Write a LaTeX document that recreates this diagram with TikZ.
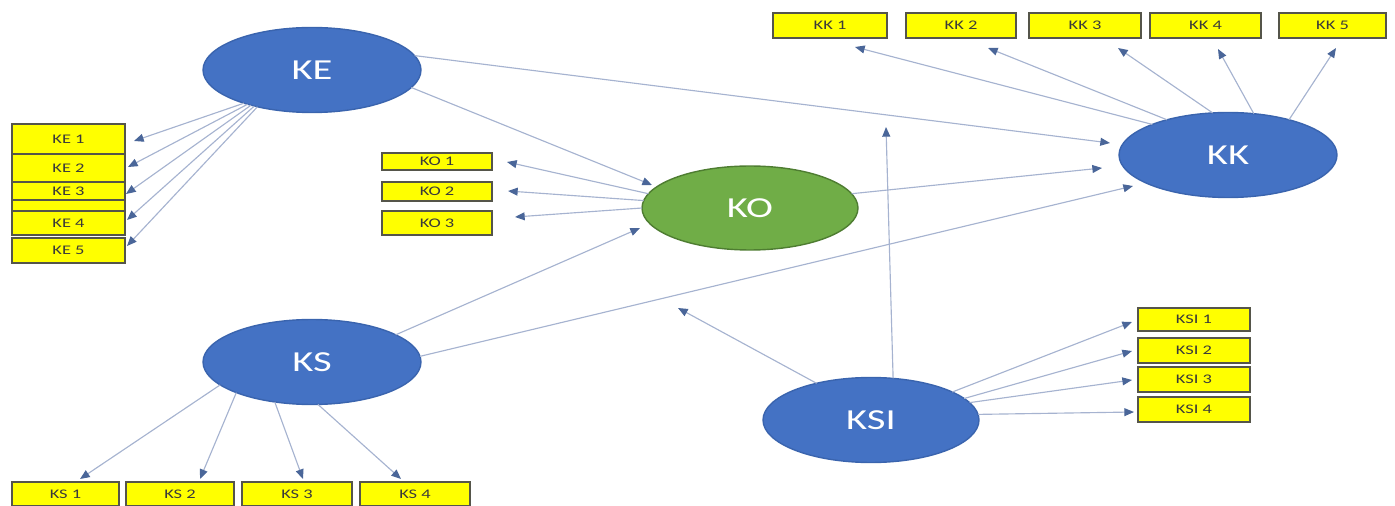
\documentclass[tikz,border=0pt]{standalone}
\usepackage{fontspec}
\setmainfont{Carlito}
\newfontfamily\wfont[FakeStretch=1.4]{Carlito}
\usetikzlibrary{shapes.geometric,arrows.meta}
\definecolor{eblue}{HTML}{4472C4}
\definecolor{eblueborder}{HTML}{3A64AE}
\definecolor{egreen}{HTML}{70AD47}
\definecolor{egreenborder}{HTML}{4E7D31}
\definecolor{byellow}{HTML}{FFFF00}
\definecolor{bborder}{HTML}{55554A}
\definecolor{lineblue}{HTML}{A6B3D0}
\definecolor{headblue}{HTML}{4A6699}
\definecolor{btext}{HTML}{3A3A3A}
\tikzset{
  latent/.style={ellipse, fill=eblue, draw=eblueborder, line width=0.8pt, inner sep=0pt, outer sep=0pt,
    minimum width=4.36cm, minimum height=1.7cm, text=white, font=\wfont\fontsize{16.5}{16.5}\selectfont},
  ibox/.style={rectangle, fill=byellow, draw=bborder, line width=1pt, inner sep=0pt, outer sep=0pt,
    text=btext, font=\wfont\fontsize{7.5}{8}\selectfont},
  conn/.style={draw=lineblue, line width=0.65pt, -{Triangle[length=5.5pt,width=4.5pt,color=headblue]}}
}
\newcommand\ibx[6]{\node[ibox, minimum width={(#4-#2)*0.02cm}, minimum height={(#5-#3)*0.02cm}] (#1) at ({(#2+#4)/2},{(#3+#5)/2}) {#6};}
\begin{document}
\begin{tikzpicture}[x=0.02cm,y=-0.02cm]
\useasboundingbox (0,0) rectangle (1395,506);
% latent variables
\node[latent] (ke) at (312,70) {KE};
\node[latent, fill=egreen, draw=egreenborder, minimum width=4.32cm, minimum height=1.68cm] (ko) at (750,208) {KO};
\node[latent] (kk) at (1228,155) {KK};
\node[latent] (ks) at (312,362) {KS};
\node[latent, minimum width=4.32cm] (ksi) at (871,420) {KSI};
% indicator boxes
\ibx{ke1}{12}{124}{125}{154}{KE 1}
\ibx{ke2}{12}{154}{125}{182}{KE 2}
\ibx{ke3}{12}{182}{125}{200}{KE 3}
\ibx{kestrip}{12}{200}{125}{211}{}
\ibx{ke4}{12}{211}{125}{235}{KE 4}
\ibx{ke5}{12}{238}{125}{263}{KE 5}
\ibx{ko1}{382}{153}{492}{170}{KO 1}
\ibx{ko2}{382}{182}{492}{201}{KO 2}
\ibx{ko3}{382}{211}{492}{235}{KO 3}
\ibx{kk1}{773}{13}{887}{38}{KK 1}
\ibx{kk2}{906}{13}{1016}{38}{KK 2}
\ibx{kk3}{1029}{13}{1141}{38}{KK 3}
\ibx{kk4}{1150}{13}{1261}{38}{KK 4}
\ibx{kk5}{1279}{13}{1386}{38}{KK 5}
\ibx{ksi1}{1138}{308}{1250}{331}{KSI 1}
\ibx{ksi2}{1138}{338}{1250}{363}{KSI 2}
\ibx{ksi3}{1138}{367}{1250}{392}{KSI 3}
\ibx{ksi4}{1138}{397}{1250}{422}{KSI 4}
\ibx{ks1}{12}{482}{119}{506}{KS 1}
\ibx{ks2}{126}{482}{234}{506}{KS 2}
\ibx{ks3}{242}{482}{352}{506}{KS 3}
\ibx{ks4}{360}{482}{470}{506}{KS 4}
% free arrow tips
\coordinate (tke1) at (134,141);
\coordinate (tke2) at (128,167);
\coordinate (tke3) at (126,194);
\coordinate (tke4) at (127,220);
\coordinate (tke5) at (127,246);
\coordinate (tko1) at (507,162);
\coordinate (tko2) at (508,191);
\coordinate (tko3) at (515,217);
\coordinate (tkk1) at (855,47);
\coordinate (tkk2) at (988,48);
\coordinate (tkk3) at (1118,48);
\coordinate (tkk4) at (1218,49);
\coordinate (tkk5) at (1336,48);
\coordinate (tkekk) at (1110,143);
\coordinate (tkeko) at (652,185);
\coordinate (tkokk) at (1102,168);
\coordinate (tkskk) at (1133,186);
\coordinate (tksko) at (640,228);
\coordinate (tksikk) at (886,127);
\coordinate (tksifree) at (678,308);
\coordinate (tksi1) at (1132,322);
\coordinate (tksi2) at (1132,351);
\coordinate (tksi3) at (1132,380);
\coordinate (tksi4) at (1134,412);
\coordinate (tks1) at (80,479);
\coordinate (tks2) at (200,479);
\coordinate (tks3) at (303,479);
\coordinate (tks4) at (401,479);
% connectors
\draw[conn] (ke.206) -- (tke1);
\draw[conn] (ke.208) -- (tke2);
\draw[conn] (ke.210) -- (tke3);
\draw[conn] (ke.212) -- (tke4);
\draw[conn] (ke.214) -- (tke5);
\draw[conn] (ko.172) -- (tko1);
\draw[conn] (ko.176) -- (tko2);
\draw[conn] (ko.180) -- (tko3);
\draw[conn] (kk.158) -- (tkk1);
\draw[conn] (kk.150) -- (tkk2);
\draw[conn] (kk.110) -- (tkk3);
\draw[conn] (kk.58) -- (tkk4);
\draw[conn] (kk.30) -- (tkk5);
\draw[conn] (ke.8) -- (tkekk);
\draw[conn] (ke.-10) -- (tkeko);
\draw[conn] (ko.8) -- (tkokk);
\draw[conn] (ks.3) -- (tkskk);
\draw[conn] (ks.18) -- (tksko);
\draw[conn] (ksi.62) -- (tksikk);
\draw[conn] (ksi.146) -- (tksifree);
\draw[conn] (ksi.19) -- (tksi1);
\draw[conn] (ksi.13) -- (tksi2);
\draw[conn] (ksi.10) -- (tksi3);
\draw[conn] (ksi.3) -- (tksi4);
\draw[conn] (ks.194) -- (tks1);
\draw[conn] (ks.202) -- (tks2);
\draw[conn] (ks.227) -- (tks3);
\draw[conn] (ks.278) -- (tks4);
\end{tikzpicture}
\end{document}
